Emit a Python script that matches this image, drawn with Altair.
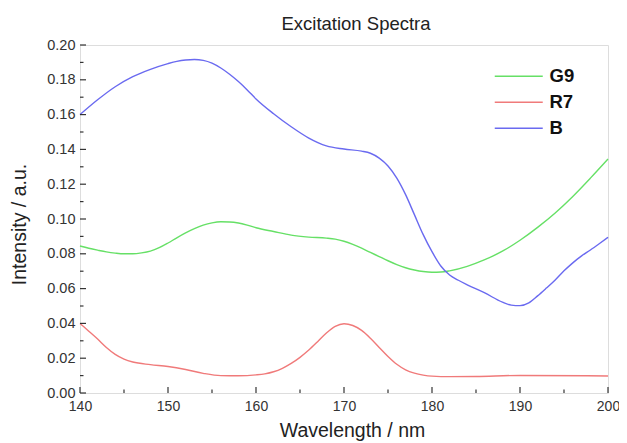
import altair as alt
import pandas as pd

# ---- data ----
blue_x = [140, 142, 144, 146, 148, 150, 151, 152, 153, 154, 155, 156, 157, 158, 159, 160,
          162, 164, 166, 168, 170, 172, 173, 174, 175, 176, 177, 178, 179, 180, 181, 182,
          183, 184, 186, 188, 189, 190, 191, 192, 193, 194, 195, 196, 197, 198, 199, 200]
blue_y = [0.160, 0.1685, 0.176, 0.1818, 0.186, 0.1893, 0.1906, 0.1914, 0.1917, 0.1912,
          0.1896, 0.1868, 0.1832, 0.1790, 0.1742, 0.1690, 0.1605, 0.1530, 0.1465, 0.1420,
          0.1402, 0.1390, 0.1378, 0.1350, 0.1305, 0.1235, 0.1140, 0.1025, 0.0910, 0.0812,
          0.0730, 0.0678, 0.0648, 0.0622, 0.0575, 0.0522, 0.0505, 0.0502, 0.0518, 0.0558,
          0.0603, 0.0650, 0.0702, 0.0748, 0.0788, 0.0822, 0.0858, 0.0895]

green_x = [140, 141, 142, 143, 144, 145, 146, 147, 148, 149, 150, 151, 152, 153, 154, 155,
           156, 157, 158, 159, 160, 162, 164, 166, 168, 169, 170, 171, 172, 173, 174, 175,
           176, 177, 178, 179, 180, 181, 182, 184, 186, 188, 190, 192, 194, 196, 198, 200]
green_y = [0.0845, 0.0832, 0.0821, 0.0811, 0.0804, 0.0800, 0.0800, 0.0805, 0.0815, 0.0835,
           0.0862, 0.0892, 0.0920, 0.0945, 0.0965, 0.0978, 0.0984, 0.0983, 0.0977, 0.0965,
           0.0950, 0.0928, 0.0907, 0.0896, 0.0890, 0.0884, 0.0872, 0.0854, 0.0832, 0.0808,
           0.0784, 0.0760, 0.0738, 0.0720, 0.0707, 0.0698, 0.0694, 0.0695, 0.0702, 0.0728,
           0.0766, 0.0815, 0.0878, 0.0952, 0.1035, 0.1130, 0.1235, 0.1345]

red_x = [140, 141, 142, 143, 144, 145, 146, 148, 150, 152, 154, 156, 158, 160, 161, 162,
         163, 164, 165, 166, 167, 168, 169, 170, 171, 172, 173, 174, 175, 176, 177, 178,
         179, 180, 182, 185, 190, 200]
red_y = [0.0400, 0.0355, 0.0310, 0.0262, 0.0222, 0.0195, 0.0178, 0.0163, 0.0152, 0.0135,
         0.0113, 0.0100, 0.0099, 0.0104, 0.0110, 0.0122, 0.0142, 0.0170, 0.0205, 0.0247,
         0.0295, 0.0345, 0.0383, 0.0398, 0.0388, 0.0360, 0.0315, 0.0262, 0.0210, 0.0165,
         0.0133, 0.0114, 0.0103, 0.0097, 0.0094, 0.0095, 0.0101, 0.0098]

series_names = ["G9", "R7", "B"]
series_colors = ["#66e066", "#f07a7a", "#6a6af0"]

x_major = [140, 150, 160, 170, 180, 190, 200]
x_minor = [145, 155, 165, 175, 185, 195]
y_major = [0.00, 0.02, 0.04, 0.06, 0.08, 0.10, 0.12, 0.14, 0.16, 0.18, 0.20]
y_minor = [0.01, 0.03, 0.05, 0.07, 0.09, 0.11, 0.13, 0.15, 0.17, 0.19]

W, H = 528, 348

rows = []
for name, xs, ys in [("G9", green_x, green_y), ("R7", red_x, red_y), ("B", blue_x, blue_y)]:
    for xv, yv in zip(xs, ys):
        rows.append({"series": name, "wl": xv, "val": yv})
df = pd.DataFrame(rows)

xscale = alt.Scale(domain=[140, 200], nice=False, zero=False)
yscale = alt.Scale(domain=[0, 0.2], nice=False, zero=False)

x_axis = alt.Axis(values=x_major, format="d", ticks=False, domain=False, grid=False,
                  labelOverlap=False, labelFlush=False,
                  labelFontSize=14, labelColor="#333", labelPadding=6,
                  labelFont="Liberation Sans",
                  title="Wavelength / nm", titleFontSize=19.5, titleFontWeight="normal",
                  titleFont="Liberation Sans", titleColor="#222",
                  titleBaseline="alphabetic", titleY=43, titleX=W / 2 + 8)
y_axis = alt.Axis(values=y_major, format=".2f", ticks=False, domain=False, grid=False,
                  labelOverlap=False, labelFlush=False,
                  labelFontSize=14.5, labelColor="#333", labelPadding=5,
                  labelFont="Liberation Sans",
                  title="Intensity / a.u.", titleFontSize=19.5, titleFontWeight="normal",
                  titleFont="Liberation Sans", titleColor="#222",
                  titleAngle=270, titleBaseline="alphabetic", titleAlign="center",
                  titleX=-55, titleY=H / 2 + 5)

lines = alt.Chart(df).mark_line(strokeWidth=1.4, interpolate="monotone").encode(
    x=alt.X("wl:Q", scale=xscale, axis=x_axis),
    y=alt.Y("val:Q", scale=yscale, axis=y_axis),
    color=alt.Color("series:N",
                    scale=alt.Scale(domain=series_names, range=series_colors),
                    sort=series_names,
                    legend=alt.Legend(title=None, orient="none", legendX=447.5, legendY=22,
                                      symbolType="M-7,0H1", symbolSize=144,
                                      symbolStrokeWidth=1.6, padding=0,
                                      labelFont="Liberation Sans",
                                      labelFontWeight="bold", labelFontSize=18.5,
                                      labelColor="#111", labelOffset=3.5, rowPadding=7)),
)

xticks_major = alt.Chart(pd.DataFrame({"wl": x_major})).mark_rule(color="#333", strokeWidth=1.2).encode(
    x=alt.X("wl:Q", scale=xscale, axis=x_axis), y=alt.value(H), y2=alt.value(H - 6))
xticks_minor = alt.Chart(pd.DataFrame({"wl": x_minor})).mark_rule(color="#333", strokeWidth=1.2).encode(
    x=alt.X("wl:Q", scale=xscale, axis=x_axis), y=alt.value(H), y2=alt.value(H - 3.5))
yticks_major = alt.Chart(pd.DataFrame({"val": y_major})).mark_rule(color="#333", strokeWidth=1.2).encode(
    y=alt.Y("val:Q", scale=yscale, axis=y_axis), x=alt.value(0), x2=alt.value(6))
yticks_minor = alt.Chart(pd.DataFrame({"val": y_minor})).mark_rule(color="#333", strokeWidth=1.2).encode(
    y=alt.Y("val:Q", scale=yscale, axis=y_axis), x=alt.value(0), x2=alt.value(3.5))

chart = alt.layer(lines, xticks_major, xticks_minor, yticks_major, yticks_minor).properties(
    width=W, height=H,
    title=alt.TitleParams("Excitation Spectra", fontSize=18.5, fontWeight="normal",
                          font="Liberation Sans", color="#222", dx=12, offset=4),
    autosize=alt.AutoSizeParams(type="none"),
    padding={"left": 72, "top": 37, "right": 11, "bottom": 50},
).configure_view(stroke="#333", strokeWidth=1.3).configure(background="white")

chart.save("out.html", embed_options={"renderer": "svg", "actions": False})
